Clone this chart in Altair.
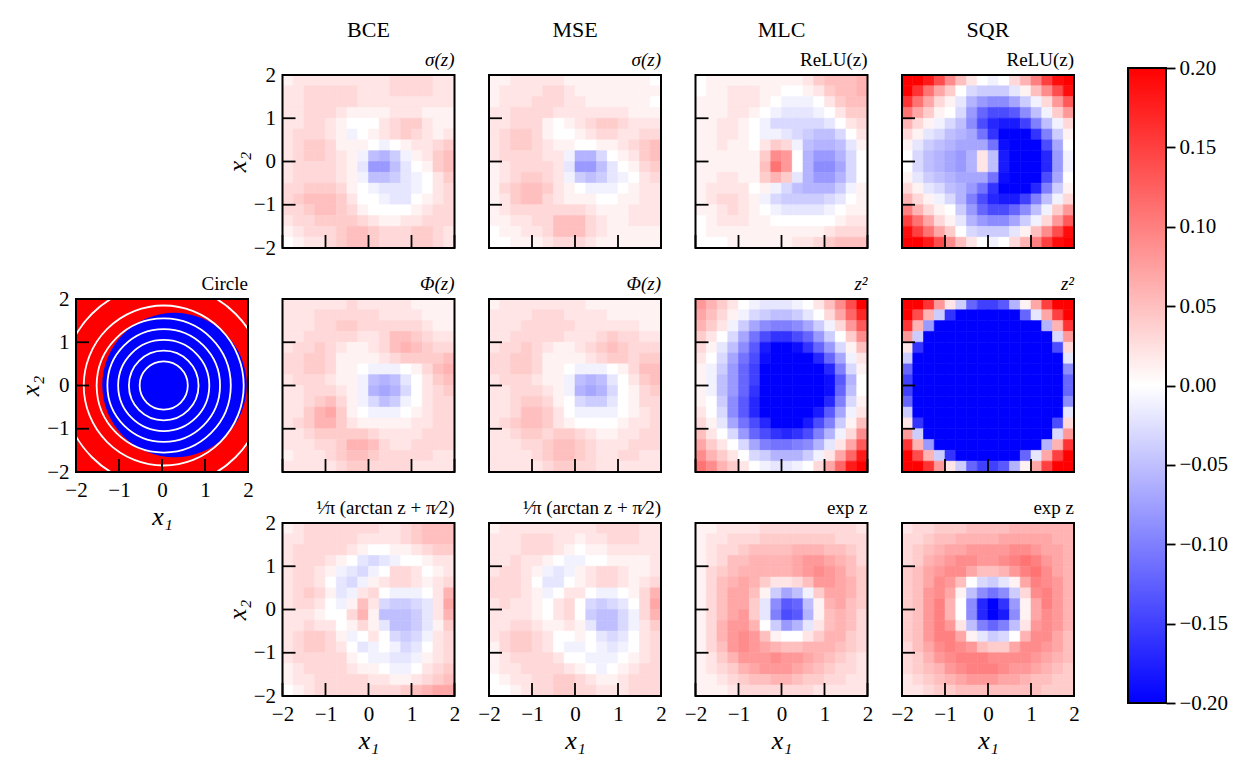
import altair as alt
import pandas as pd

FONT = "Liberation Serif"
TICKS = [-2, -1, 0, 1, 2]
BAR_TICKS = [-0.2, -0.15, -0.1, -0.05, 0.0, 0.05, 0.1, 0.15, 0.2]
DISC = {"x": [0.29], "y": [0.01], "r": [1.68]}
RINGS = [0.56, 0.81, 1.06, 1.31, 1.56, 1.86, 2.36]
RING_CENTRE = (0.04, 0.0)

# heat values in hundredths, rows from x2=2 down to x2=-2, columns from x1=-2 to x1=2
BCE_SIGMA = [
[1,2,2,2,2,2,2,2,2,2,3,3,3,3,2,2],[2,2,3,3,3,3,3,2,2,2,3,3,3,3,2,2],[2,2,3,3,3,3,3,2,2,2,2,2,2,2,2,2],[2,2,3,3,3,2,1,1,1,1,2,2,2,1,1,1],
[2,2,3,3,2,1,0,0,0,2,3,4,4,2,1,1],[2,3,3,3,2,1,-1,0,1,2,3,4,3,2,1,2],[2,3,4,4,3,1,1,1,0,-1,0,1,2,2,3,4],[2,3,4,4,3,2,1,-1,-5,-6,-4,-1,1,2,4,5],
[2,3,3,3,3,2,1,-2,-8,-8,-5,-2,0,1,4,5],[2,3,3,3,3,2,1,-1,-5,-5,-4,-2,-1,0,2,4],[3,3,4,4,4,3,1,0,-1,-2,-2,-2,-1,0,2,3],[3,4,5,5,5,4,2,0,0,-1,-2,-2,0,1,2,3],
[3,3,4,5,5,4,3,1,0,0,0,0,1,2,3,3],[2,3,3,4,4,4,4,3,2,1,1,2,2,3,3,3],[1,2,3,3,3,4,5,5,4,3,3,3,4,4,3,2],[0,1,2,2,3,4,5,5,4,3,3,3,4,4,3,2]]
MSE_SIGMA = [
[1,1,2,2,2,2,2,1,1,1,1,1,1,1,1,0],[1,2,2,2,2,3,3,2,1,1,1,1,1,1,1,1],[1,2,2,2,3,3,3,2,2,1,1,1,1,1,1,0],[2,2,3,3,3,3,2,2,2,2,2,2,2,1,1,1],
[2,2,3,3,3,1,0,1,2,3,4,4,3,2,2,2],[2,3,4,4,3,1,0,0,1,2,3,3,2,2,3,3],[2,3,4,4,3,2,1,1,0,0,1,1,2,3,4,5],[2,3,3,3,3,2,2,-1,-6,-6,-3,0,1,2,4,5],
[1,2,3,3,3,3,2,-2,-8,-8,-5,-2,0,1,3,4],[1,2,3,4,4,3,2,-1,-4,-5,-4,-2,-1,0,2,3],[1,3,4,5,5,4,2,1,0,-1,-1,-1,0,1,2,2],[1,2,4,5,5,3,2,1,1,1,0,0,1,1,2,2],
[1,2,3,3,3,3,3,3,3,2,1,1,1,2,2,2],[1,1,2,2,3,3,5,5,5,3,2,1,1,2,2,2],[0,1,1,2,2,3,5,5,5,3,2,1,1,1,1,1],[0,0,1,1,1,2,3,3,3,2,1,1,1,1,1,1]]
MLC_RELU = [
[0,1,1,1,1,1,1,1,1,1,2,4,5,5,5,6],[0,1,1,2,2,2,1,1,0,0,1,2,4,5,5,6],[1,1,1,2,2,2,1,0,-1,-1,-1,0,2,4,5,5],[1,1,1,2,2,1,0,-1,-2,-2,-2,-1,0,2,4,4],
[1,1,2,2,1,0,-1,-3,-3,-3,-3,-3,-2,0,2,3],[1,1,2,2,1,0,-1,-1,-2,-3,-4,-5,-5,-3,0,2],[1,1,2,1,1,0,2,4,3,-1,-5,-6,-6,-5,-2,1],[1,1,1,1,1,1,4,9,8,0,-6,-8,-8,-6,-3,0],
[1,1,1,1,1,1,5,11,8,0,-6,-9,-9,-7,-3,0],[1,1,2,2,1,1,4,6,4,-2,-6,-8,-8,-6,-3,0],[1,2,2,2,2,0,1,-1,-3,-5,-6,-6,-6,-4,-1,1],[1,2,3,3,2,1,-1,-3,-4,-4,-4,-4,-3,-2,0,1],
[1,1,2,3,2,1,0,-1,-2,-2,-2,-2,-1,0,1,1],[0,1,2,2,2,1,1,0,0,0,0,0,0,1,2,2],[0,1,1,1,1,1,1,1,1,1,1,1,2,3,3,3],[0,0,0,1,1,1,1,1,1,2,2,3,4,5,5,5]]
SQR_RELU = [
[20,20,18,14,9,5,2,0,-1,0,3,6,10,15,19,20],[20,16,11,7,4,0,-3,-4,-4,-4,-2,1,5,9,14,19],[16,11,7,3,1,-2,-6,-8,-9,-9,-7,-4,-1,3,8,13],[11,7,4,1,0,-3,-8,-12,-14,-14,-13,-9,-5,-1,4,8],
[6,3,1,-1,-3,-5,-9,-14,-17,-18,-18,-15,-10,-5,-1,3],[3,1,-2,-3,-5,-6,-7,-11,-16,-20,-20,-20,-16,-10,-4,1],[1,-2,-4,-5,-6,-7,-7,-7,-11,-19,-20,-20,-20,-14,-7,0],[0,-3,-5,-6,-7,-8,-6,2,-5,-18,-20,-20,-20,-17,-8,-1],
[0,-3,-5,-6,-7,-8,-6,2,-5,-18,-20,-20,-20,-17,-8,-1],[1,-2,-4,-5,-6,-7,-7,-7,-11,-19,-20,-20,-20,-14,-7,0],[3,1,-2,-3,-5,-6,-8,-11,-16,-20,-20,-20,-17,-10,-4,1],[6,3,1,-1,-3,-6,-10,-14,-17,-18,-18,-15,-10,-5,-1,3],
[10,6,3,1,0,-4,-8,-12,-14,-14,-12,-9,-5,-1,4,8],[15,11,7,3,1,-2,-6,-8,-9,-9,-7,-4,-1,3,8,13],[19,15,11,7,4,0,-3,-4,-4,-4,-2,1,5,9,14,19],[20,20,18,14,9,5,2,0,-1,0,3,6,10,15,19,20]]
BCE_PHI = [
[2,2,2,2,2,2,3,2,2,2,2,2,1,1,1,1],[2,2,2,3,3,3,3,3,3,2,2,2,2,1,1,1],[2,2,2,3,3,4,4,3,3,3,3,3,3,2,1,1],[2,2,3,3,3,3,3,2,2,3,5,5,4,3,2,2],
[2,3,3,4,3,2,1,1,2,3,5,6,5,4,3,3],[3,3,4,4,3,1,1,1,1,2,3,4,4,4,4,5],[3,3,4,4,3,1,1,0,-1,-1,-1,0,1,3,5,6],[2,3,3,3,2,1,1,-1,-5,-6,-5,-2,0,2,4,5],
[2,2,3,3,3,2,1,-1,-6,-7,-6,-3,0,2,3,4],[2,2,3,4,5,3,1,-1,-3,-5,-4,-1,0,2,3,3],[2,2,4,6,7,4,1,0,-1,-1,-1,0,1,2,3,3],[2,3,4,6,6,4,2,1,1,1,1,1,2,2,3,3],
[2,2,3,4,4,4,4,4,3,2,2,2,2,3,3,3],[2,2,2,3,3,4,6,6,5,3,2,2,3,3,3,3],[1,2,2,2,3,4,5,5,4,3,3,3,3,3,2,2],[2,2,2,2,2,3,4,4,3,3,3,3,2,2,2,2]]
MSE_PHI = [
[1,2,2,2,2,2,2,2,2,1,1,1,1,1,1,1],[2,2,2,2,3,3,3,2,2,2,2,1,1,1,1,1],[2,2,2,3,3,3,3,3,2,2,2,2,2,2,1,1],[2,2,3,3,3,3,3,2,2,2,3,4,3,3,2,2],
[2,3,3,4,3,2,1,1,2,3,4,5,4,3,3,3],[3,3,4,4,3,1,1,1,1,2,3,4,4,3,4,4],[3,3,4,4,3,1,1,0,-1,-1,-1,0,1,3,5,5],[2,3,3,3,2,1,1,-1,-5,-6,-5,-2,0,2,4,5],
[2,2,3,3,3,2,1,-1,-6,-7,-6,-3,0,1,3,4],[2,2,3,4,4,3,1,0,-3,-4,-4,-2,0,1,3,3],[2,2,3,5,5,4,2,0,-1,-1,-1,-1,0,1,2,3],[2,3,4,5,5,4,2,1,0,0,0,0,1,2,2,3],
[2,2,3,4,4,3,4,4,3,2,1,1,2,2,3,3],[2,2,2,3,3,4,5,5,4,3,2,2,2,3,3,3],[2,2,2,2,3,4,5,5,4,3,2,2,3,3,2,2],[2,2,2,2,2,3,4,4,3,3,2,2,2,2,2,2]]
MLC_SQ = [
[8,6,4,2,0,-1,-2,-2,-2,-1,0,2,5,9,14,20],[7,5,3,1,-1,-3,-4,-5,-5,-4,-2,0,3,7,12,17],[6,4,2,-1,-4,-7,-9,-10,-10,-9,-7,-4,-1,3,8,13],[4,2,0,-3,-7,-11,-14,-16,-16,-14,-12,-8,-4,0,4,9],
[3,1,-2,-5,-9,-13,-18,-20,-20,-19,-16,-12,-8,-3,1,5],[2,0,-3,-7,-11,-14,-19,-20,-20,-20,-20,-17,-12,-7,-1,2],[1,-1,-4,-8,-12,-15,-20,-20,-20,-20,-20,-20,-17,-10,-3,1],[1,-1,-5,-8,-12,-15,-20,-20,-20,-20,-20,-20,-19,-13,-6,0],
[1,-1,-5,-8,-12,-16,-20,-20,-20,-20,-20,-20,-19,-12,-5,0],[1,0,-4,-9,-13,-17,-20,-20,-20,-20,-20,-20,-17,-10,-3,1],[2,0,-3,-9,-13,-17,-20,-20,-20,-20,-20,-18,-13,-7,-1,2],[3,1,-2,-7,-11,-14,-17,-20,-20,-20,-18,-14,-10,-4,1,5],
[5,2,0,-3,-8,-12,-14,-16,-17,-16,-14,-10,-6,-1,3,9],[7,4,2,0,-3,-7,-10,-11,-11,-10,-9,-6,-2,2,7,13],[9,6,4,2,0,-3,-4,-6,-6,-6,-4,-1,2,7,12,18],[11,9,6,4,2,0,-1,-2,-2,-1,0,3,7,12,18,20]]
SQR_SQ = [
[20,20,16,8,2,-4,-12,-15,-15,-13,-6,1,7,15,20,20],[20,14,6,-4,-16,-20,-20,-20,-20,-20,-20,-12,-2,7,15,20],[16,6,-8,-20,-20,-20,-20,-20,-20,-20,-20,-20,-20,-6,6,16],[8,-4,-20,-20,-20,-20,-20,-20,-20,-20,-20,-20,-20,-20,-3,8],
[2,-16,-20,-20,-20,-20,-20,-20,-20,-20,-20,-20,-20,-20,-14,3],[-4,-20,-20,-20,-20,-20,-20,-20,-20,-20,-20,-20,-20,-20,-20,-2],[-12,-20,-20,-20,-20,-20,-20,-20,-20,-20,-20,-20,-20,-20,-20,-9],[-15,-20,-20,-20,-20,-20,-20,-20,-20,-20,-20,-20,-20,-20,-20,-12],
[-15,-20,-20,-20,-20,-20,-20,-20,-20,-20,-20,-20,-20,-20,-20,-12],[-12,-20,-20,-20,-20,-20,-20,-20,-20,-20,-20,-20,-20,-20,-20,-9],[-4,-20,-20,-20,-20,-20,-20,-20,-20,-20,-20,-20,-20,-20,-20,-2],[2,-16,-20,-20,-20,-20,-20,-20,-20,-20,-20,-20,-20,-20,-14,3],
[8,-4,-20,-20,-20,-20,-20,-20,-20,-20,-20,-20,-20,-20,-3,8],[16,6,-8,-20,-20,-20,-20,-20,-20,-20,-20,-20,-20,-6,6,16],[20,14,6,-4,-16,-20,-20,-20,-20,-20,-20,-12,-2,7,15,20],[20,20,16,8,2,-4,-12,-15,-15,-13,-6,1,7,15,20,20]]
BCE_ATAN = [
[1,2,3,3,3,3,3,3,3,2,2,3,4,5,5,5],[2,2,3,3,3,3,3,2,2,2,2,3,4,5,5,5],[2,3,3,3,3,3,2,1,0,0,1,1,2,3,4,4],[2,3,3,3,2,1,0,-2,-3,-2,-1,0,0,1,2,2],
[2,3,3,2,1,-1,-2,-3,-1,0,3,3,2,0,1,2],[2,3,3,2,0,-2,-3,-1,1,2,3,3,2,1,2,3],[2,3,4,3,1,-2,-1,2,3,0,-1,-1,-1,0,2,6],[2,3,3,2,0,-1,1,5,2,-3,-4,-4,-3,-2,2,7],
[2,2,2,1,0,0,3,6,1,-5,-5,-5,-4,-2,2,6],[2,2,3,2,2,0,1,3,1,-2,-5,-5,-4,-2,1,4],[2,3,4,4,3,1,-1,0,2,0,-3,-4,-3,-1,2,3],[2,3,4,4,3,2,0,-2,-1,0,-1,-3,-2,0,2,3],
[2,3,3,3,3,3,1,0,-1,-1,-2,-2,-1,1,2,3],[1,2,3,3,3,3,2,1,1,0,-1,-1,0,2,3,4],[1,2,2,3,3,3,3,3,2,2,1,1,2,3,4,5],[0,1,2,3,3,3,3,3,3,3,3,4,5,6,7,7]]
MSE_ATAN = [
[1,2,2,2,2,2,2,2,2,2,3,3,3,3,2,2],[2,2,2,3,3,3,2,2,1,2,2,3,3,3,2,2],[2,2,2,3,3,3,2,1,0,1,1,2,2,2,2,2],[2,2,3,2,2,1,0,-1,-1,0,0,1,1,1,1,2],
[2,3,3,2,1,-1,-2,-1,1,2,3,3,2,1,1,2],[3,3,3,2,0,-2,-2,0,1,2,3,3,2,1,2,3],[3,3,3,2,1,-1,0,2,2,0,-1,-1,0,1,3,6],[2,3,2,2,1,0,2,3,0,-3,-4,-3,-2,0,3,7],
[2,2,2,2,1,0,2,3,0,-4,-5,-5,-3,-1,3,6],[2,2,3,3,2,1,1,2,1,-2,-5,-5,-3,-1,2,4],[2,3,4,4,3,2,0,0,1,0,-2,-3,-2,0,2,3],[1,3,4,4,3,2,0,-1,-1,0,-1,-2,-1,0,2,3],
[1,2,3,3,3,3,2,0,0,-1,-1,-1,0,1,2,3],[1,2,2,3,3,3,3,2,1,0,-1,0,1,2,3,3],[0,1,2,2,3,3,4,4,3,2,1,1,2,3,3,3],[0,0,1,2,3,3,4,4,3,3,2,2,2,3,3,3]]
MLC_EXP = [
[1,1,2,2,2,2,3,3,3,3,3,3,3,3,3,2],[1,2,2,3,3,3,4,4,4,4,4,4,4,3,3,3],[1,2,3,3,4,5,5,5,5,6,6,6,5,5,4,3],[1,2,3,5,5,6,6,6,6,7,8,8,7,6,5,3],
[1,3,4,5,6,6,6,6,6,7,8,9,8,7,5,4],[1,3,5,6,7,6,4,2,2,3,5,8,8,7,6,4],[1,3,5,7,7,5,1,-4,-7,-5,-1,4,7,7,6,4],[1,3,5,7,7,4,-2,-9,-13,-12,-5,1,6,7,5,4],
[1,3,5,7,8,4,-2,-10,-14,-13,-6,1,5,6,5,3],[1,3,6,8,8,6,0,-4,-8,-6,-2,2,5,6,5,3],[1,3,6,8,9,8,5,1,0,0,2,4,6,6,4,3],[1,3,5,8,9,8,7,6,5,5,6,6,6,5,4,3],
[1,2,4,6,8,8,8,9,8,8,7,6,5,4,3,2],[1,2,3,4,6,7,8,8,8,7,6,5,4,3,3,2],[1,1,2,3,4,5,5,6,6,5,4,4,3,3,2,2],[1,1,1,2,3,3,3,3,3,3,3,2,2,2,2,2]]
SQR_EXP = [
[2,3,3,4,4,4,5,5,5,5,6,6,6,6,6,6],[3,3,4,5,5,6,6,6,6,7,7,7,7,7,6,6],[3,4,5,6,7,7,8,8,8,8,9,9,8,7,7,6],[3,4,6,7,8,9,9,8,8,9,10,11,10,8,7,6],
[4,5,7,8,9,9,7,5,5,6,8,10,11,9,7,6],[4,5,7,9,8,5,0,-3,-4,-2,1,7,10,9,8,6],[4,5,8,9,7,1,-5,-9,-11,-9,-4,3,9,10,8,6],[4,5,8,10,6,0,-9,-17,-20,-16,-8,1,7,10,8,6],
[4,5,8,10,6,0,-9,-17,-20,-18,-9,1,7,9,8,6],[4,5,8,10,8,2,-5,-10,-12,-10,-5,2,8,9,8,6],[4,5,8,10,10,7,1,-2,-4,-3,0,6,9,9,7,5],[3,5,7,9,10,9,8,5,4,4,7,9,9,8,7,5],
[3,4,6,8,9,10,10,10,9,9,9,9,8,7,6,5],[3,4,5,6,8,9,10,10,10,9,8,8,7,6,5,4],[2,3,4,5,6,7,8,8,8,7,7,6,5,5,4,4],[2,2,3,4,4,5,5,5,5,5,5,5,5,4,4,4]]

W, H = 172, 173
XS = alt.Scale(domain=[-2, 2], nice=False, zero=False)
YS = alt.Scale(domain=[-2, 2], nice=False, zero=False)
CS = alt.Scale(domain=[-0.2, 0, 0.2], range=["#0000ff", "#ffffff", "#ff0000"], interpolate="rgb", clamp=True)
FRAME = pd.DataFrame({"lo": [-2], "hi": [2]})
TICK_DF = pd.DataFrame({"t": TICKS})


def axis(labels, title):
    kw = dict(values=TICKS, tickSize=0, domain=False, grid=False, labels=labels, labelPadding=7,
              labelFontSize=21, labelFont=FONT, labelColor="black", labelFlush=False, labelOverlap=False)
    if title:
        return alt.Axis(title=title, titleFontSize=26, titleFont=FONT, titleFontStyle="italic",
                        titleFontWeight="normal", titleColor="black", titlePadding=3, **kw)
    return alt.Axis(title=None, **kw)


def cells(grid):
    n = len(grid)
    step = 4 / n
    rows = []
    for i, row in enumerate(grid):
        for j, v in enumerate(row):
            rows.append({"x0": -2 + j * step, "x1": -2 + (j + 1) * step,
                         "y0": 2 - i * step, "y1": 2 - (i + 1) * step, "v": v / 100})
    return pd.DataFrame(rows)


def overlays(xa, ya, label, italic, head):
    xt = alt.Chart(TICK_DF).mark_rule(color="black", strokeWidth=1.8).encode(
        x=alt.X("t:Q", scale=XS, axis=xa), y=alt.value(H), y2=alt.value(H - 13))
    yt = alt.Chart(TICK_DF).mark_rule(color="black", strokeWidth=1.8).encode(
        y=alt.Y("t:Q", scale=YS, axis=ya), x=alt.value(0), x2=alt.value(13))
    fr = alt.Chart(FRAME).mark_rect(filled=False, stroke="black", strokeWidth=2).encode(
        x=alt.X("lo:Q", scale=XS, axis=xa), x2="hi:Q", y=alt.Y("lo:Q", scale=YS, axis=ya), y2="hi:Q")
    sub = alt.Chart(pd.DataFrame({"t": [label]})).mark_text(
        font=FONT, fontSize=19, color="black", align="right", baseline="alphabetic",
        fontStyle="italic" if italic else "normal").encode(
        text="t:N", x=alt.value(W), y=alt.value(-9))
    out = [xt, yt, fr, sub]
    if head:
        out.append(alt.Chart(pd.DataFrame({"t": [head]})).mark_text(
            font=FONT, fontSize=22, color="black", baseline="middle").encode(
            text="t:N", x=alt.value(W / 2), y=alt.value(-45)))
    return out


def panel(grid, title, italic=False, xl=False, yl=False, head=None):
    xa = axis(xl, "x₁" if xl else None)
    ya = axis(yl, "x₂" if yl else None)
    base = alt.Chart(cells(grid)).mark_rect(strokeWidth=0.6).encode(
        x=alt.X("x0:Q", scale=XS, axis=xa), x2="x1:Q",
        y=alt.Y("y0:Q", scale=YS, axis=ya), y2="y1:Q",
        color=alt.Color("v:Q", scale=CS, legend=None),
        stroke=alt.Stroke("v:Q", scale=CS, legend=None))
    return alt.layer(base, *overlays(xa, ya, title, italic, head)).properties(width=W, height=H)


def circle_panel():
    xa = axis(True, "x₁")
    ya = axis(True, "x₂")
    bg = alt.Chart(FRAME).mark_rect(color="#ff0000").encode(
        x=alt.X("lo:Q", scale=XS, axis=xa), x2="hi:Q",
        y=alt.Y("lo:Q", scale=YS, axis=ya), y2="hi:Q")
    size = alt.Scale(type="pow", exponent=2, domain=[0, 2], range=[0, (W) ** 2])
    disc = alt.Chart(pd.DataFrame(DISC)).mark_point(filled=True, opacity=1, color="#0000ff", shape="circle", clip=True).encode(
        x=alt.X("x:Q", scale=XS, axis=xa), y=alt.Y("y:Q", scale=YS, axis=ya),
        size=alt.Size("r:Q", scale=size, legend=None))
    rings = alt.Chart(pd.DataFrame({"x": [RING_CENTRE[0]] * len(RINGS), "y": [RING_CENTRE[1]] * len(RINGS), "r": RINGS})).mark_point(
        filled=False, opacity=1, color="white", strokeWidth=1.8, shape="circle", clip=True).encode(
        x=alt.X("x:Q", scale=XS, axis=xa), y=alt.Y("y:Q", scale=YS, axis=ya),
        size=alt.Size("r:Q", scale=size, legend=None))
    return alt.layer(bg, disc, rings, *overlays(xa, ya, "Circle", False, None)).properties(width=W, height=H)


def blank(w=W):
    return alt.Chart(pd.DataFrame({"t": [""]})).mark_text().encode(
        text="t:N", x=alt.value(0), y=alt.value(0)).properties(width=w, height=H)


gradient = alt.LinearGradient(gradient="linear", x1=0, x2=0, y1=1, y2=0, stops=[
    alt.GradientStop(color="#0000ff", offset=0), alt.GradientStop(color="#ffffff", offset=0.5),
    alt.GradientStop(color="#ff0000", offset=1)])
bar = alt.Chart(pd.DataFrame({"lo": [-0.2], "hi": [0.2]})).mark_rect(
    color=gradient, stroke="black", strokeWidth=2).encode(
    x=alt.value(19.5), x2=alt.value(57.5),
    y=alt.Y("lo:Q", scale=alt.Scale(domain=[-0.2, 0.2], range=[628, -7], nice=False, zero=False),
            axis=alt.Axis(orient="right", values=BAR_TICKS, format=".2f", title=None, grid=False, domain=False,
                          tickSize=9, tickWidth=1.8, tickColor="black", labelPadding=4, labelFontSize=21,
                          labelFont=FONT, labelColor="black", labelFlush=False, labelOverlap=False)),
    y2="hi:Q").properties(width=57.5, height=H)

ATAN = "¹⁄π (arctan z + π⁄2)"
panels = [
    blank(),
    panel(BCE_SIGMA, "σ(z)", True, yl=True, head="BCE"),
    panel(MSE_SIGMA, "σ(z)", True, head="MSE"),
    panel(MLC_RELU, "ReLU(z)", head="MLC"),
    panel(SQR_RELU, "ReLU(z)", head="SQR"),
    bar,
    circle_panel(),
    panel(BCE_PHI, "Φ(z)", True),
    panel(MSE_PHI, "Φ(z)", True),
    panel(MLC_SQ, "z²", True),
    panel(SQR_SQ, "z²", True),
    blank(57.5),
    blank(),
    panel(BCE_ATAN, ATAN, xl=True, yl=True),
    panel(MSE_ATAN, ATAN, xl=True),
    panel(MLC_EXP, "exp z", xl=True),
    panel(SQR_EXP, "exp z", xl=True),
    blank(57.5),
]

chart = alt.concat(*panels, columns=6, spacing=alt.RowColnumber(row=51, column=34.5), bounds="flush").properties(
    padding={"left": 9, "top": 11, "right": 5, "bottom": 5}, background="white"
).configure_view(strokeWidth=0)

chart.save("out.html", embed_options={"renderer": "svg", "actions": False})
